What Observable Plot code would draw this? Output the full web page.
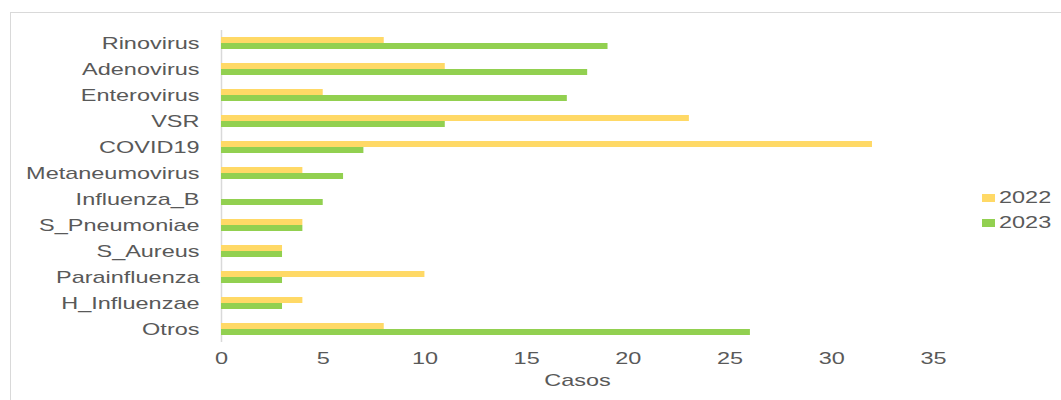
<!DOCTYPE html>
<html>
<head>
<meta charset="utf-8">
<script src="https://cdn.jsdelivr.net/npm/d3@7"></script>
<script src="https://cdn.jsdelivr.net/npm/@observablehq/plot@0.6"></script>
<style>
  html, body { margin: 0; padding: 0; background: #fff; }
  #wrap { position: relative; width: 1061px; height: 400px; overflow: hidden; font-family: "Liberation Sans", Arial, sans-serif; }
  #frame { position: absolute; left: 10px; top: 12px; width: 1200px; height: 600px; border: 1px solid #d9d9d9; pointer-events: none; }
  #legend { position: absolute; left: 982px; top: 185px; font-size: 17px; color: #595959; line-height: 25px; }
  #legend .item { display: flex; align-items: center; }
  #legend .sw { width: 13px; height: 8px; margin-right: 4px; }
  #legend span { display: inline-block; transform: scaleX(1.38); transform-origin: left center; }
  #chart { position: absolute; left: 0; top: 0; }
</style>
</head>
<body>
<div id="wrap">
  <div id="frame"></div>
  <div id="chart"></div>
  <div id="legend"></div>
</div>
<script>
const categories = ["Rinovirus", "Adenovirus", "Enterovirus", "VSR", "COVID19", "Metaneumovirus", "Influenza_B", "S_Pneumoniae", "S_Aureus", "Parainfluenza", "H_Influenzae", "Otros"];
const years = ["2022", "2023"];
const casos2022 = [8, 11, 5, 23, 32, 4, 0, 4, 3, 10, 4, 8];
const casos2023 = [19, 18, 17, 11, 7, 6, 5, 4, 3, 3, 3, 26];
const xTicks = [0, 5, 10, 15, 20, 25, 30, 35];
const colors = ["#FFD966", "#92D050"];

const data = [];
categories.forEach((c, i) => {
  data.push({categoria: c, anio: "2022", casos: casos2022[i]});
  data.push({categoria: c, anio: "2023", casos: casos2023[i]});
});

const plot = Plot.plot({
  width: 1061,
  height: 400,
  marginLeft: 221,
  marginRight: 128,
  marginTop: 27,
  marginBottom: 56,
  style: {fontSize: "17px", fontFamily: "'Liberation Sans', Arial, sans-serif", color: "#595959", background: "transparent"},
  x: {domain: [0, 35], ticks: xTicks, tickSize: 0, tickPadding: 9, label: "Casos", labelAnchor: "center", labelArrow: "none", labelOffset: 43},
  y: {domain: years, paddingInner: 0, paddingOuter: 1.0, axis: null},
  fy: {domain: categories, padding: 0, tickSize: 0, tickPadding: 22, label: null},
  color: {domain: years, range: colors},
  marks: [
    Plot.ruleX([0], {stroke: "#d9d9d9", strokeWidth: 1.5}),
    Plot.barX(data, {x: "casos", y: "anio", fy: "categoria", fill: "anio"})
  ]
});
document.getElementById("chart").appendChild(plot);

// widen glyphs to match the horizontally stretched reference
d3.select(plot).selectAll("text").each(function() {
  const len = this.getComputedTextLength();
  if (len > 0) {
    this.setAttribute("textLength", (len * 1.38).toFixed(1));
    this.setAttribute("lengthAdjust", "spacingAndGlyphs");
  }
});

const color = plot.scale("color");
const legend = d3.select("#legend");
color.domain.forEach((d, i) => {
  const item = legend.append("div").attr("class", "item");
  item.append("div").attr("class", "sw").style("background", color.range[i]);
  item.append("span").text(d);
});
</script>
</body>
</html>
